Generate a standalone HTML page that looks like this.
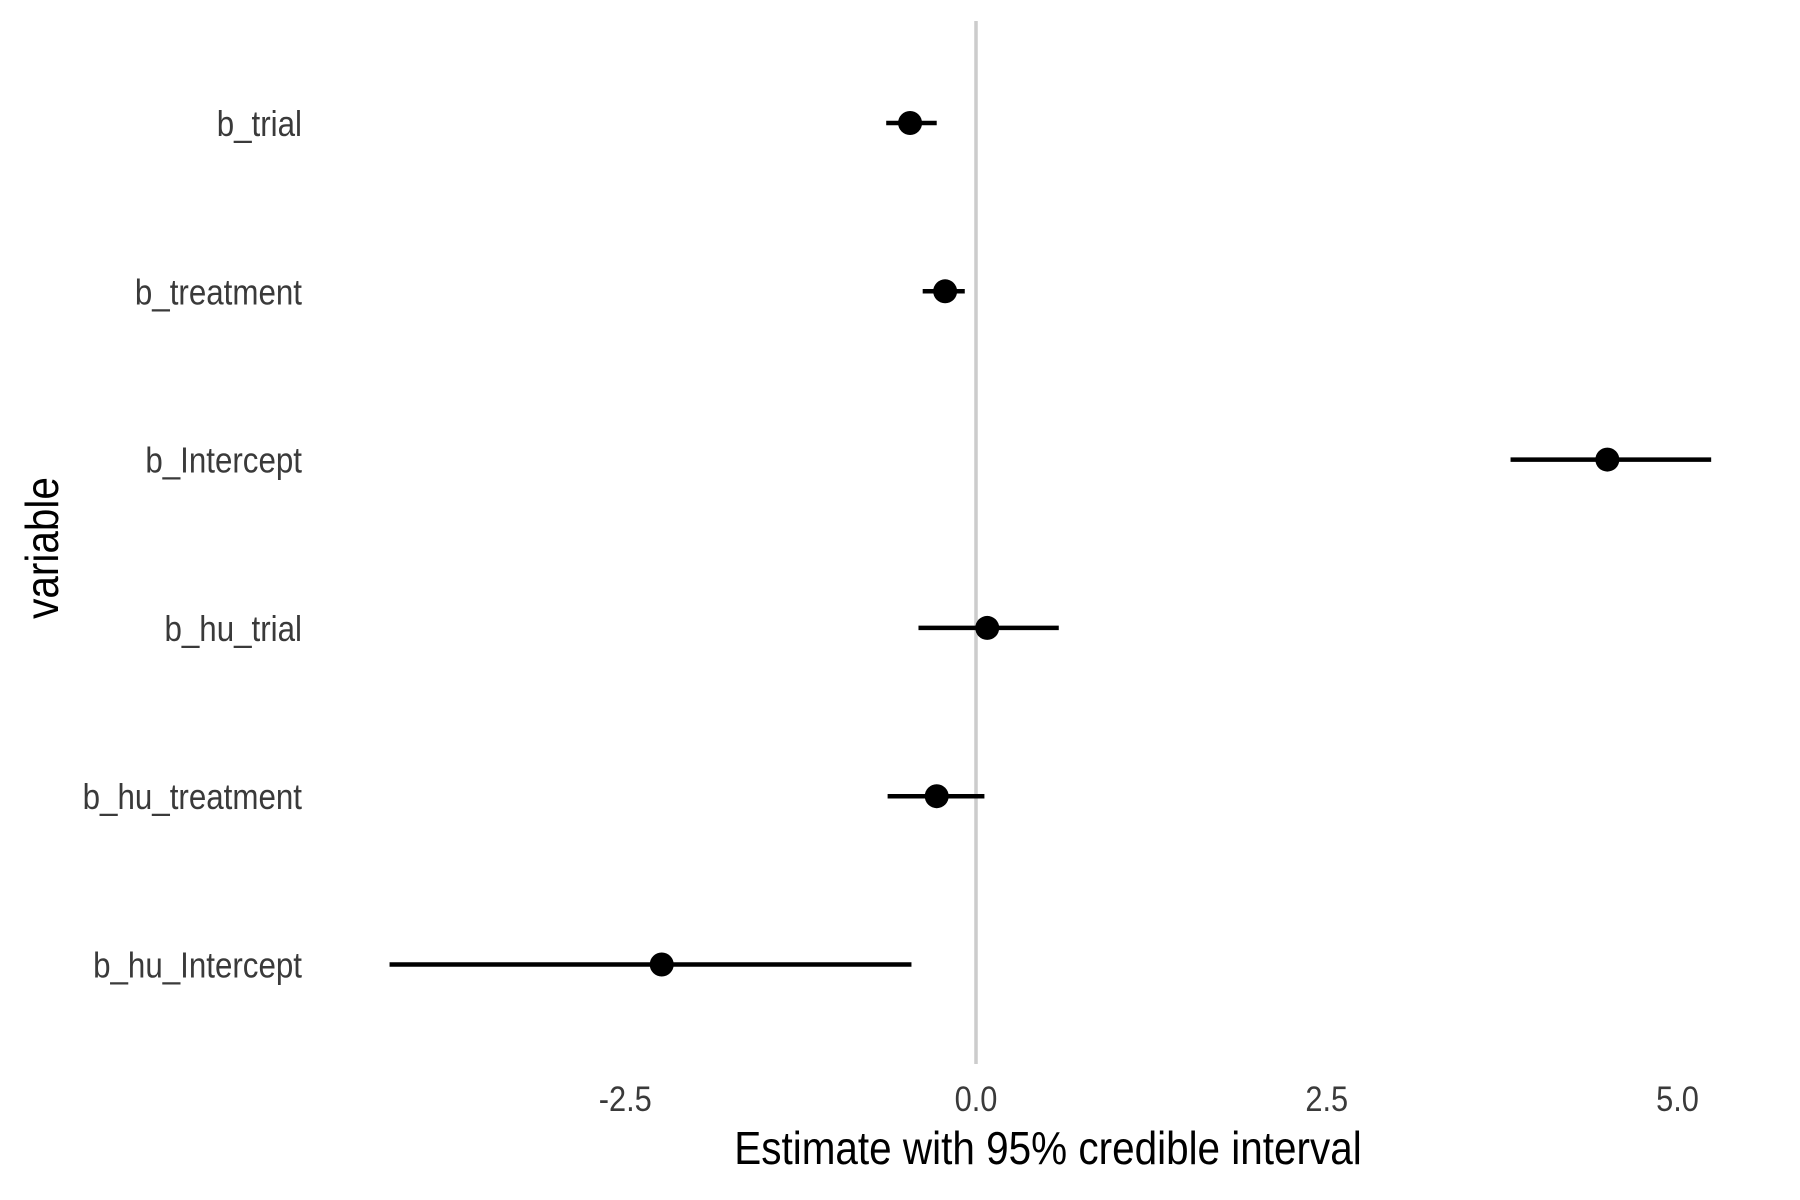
<!DOCTYPE html>
<html><head><meta charset="utf-8"><style>
html,body{margin:0;padding:0;background:#fff;}
svg{display:block;font-family:"Liberation Sans",sans-serif;}
</style></head><body>
<svg id="chart" width="1800" height="1200" viewBox="0 0 1800 1200" xmlns="http://www.w3.org/2000/svg">
<rect width="1800" height="1200" fill="#fff"/>
<g id="plot"></g>
</svg>
<script>
const variables = ["b_trial","b_treatment","b_Intercept","b_hu_trial","b_hu_treatment","b_hu_Intercept"];
const estimates = [-0.47,-0.22,4.50,0.08,-0.28,-2.24];
const lowers = [-0.64,-0.38,3.81,-0.41,-0.63,-4.18];
const uppers = [-0.28,-0.08,5.24,0.59,0.06,-0.46];
const xTicks = [-2.5,0,2.5,5];
const xTickLabels = ["-2.5","0.0","2.5","5.0"];

const NS="http://www.w3.org/2000/svg";
const g=document.getElementById('plot');
function x(v){return 976+v*140.3;}
function y(i){return 123+i*168.3;}
function mk(t,a){const e=document.createElementNS(NS,t);for(const k in a)e.setAttribute(k,a[k]);g.appendChild(e);return e;}
function txt(s,tx,ty,size,sx,anchor,fill,rot){
  const e=mk('text',{x:0,y:0,'font-size':size,'text-anchor':anchor,fill:fill,
    transform:'translate('+tx+','+ty+')'+(rot?' rotate('+rot+')':'')+' scale('+sx+',1)'});
  e.textContent=s;return e;}

const zl=mk('line',{x1:x(0),x2:x(0),y1:21,y2:1064,stroke:'#cccccc','stroke-width':3.5});



variables.forEach((v,i)=>{
  const l=txt(v,302,y(i)+13,36,0.87,'end','#3a3a3a');
  
  
  const ln=mk('line',{x1:x(lowers[i]),x2:x(uppers[i]),y1:y(i),y2:y(i),stroke:'#000','stroke-width':4.5});
  
  
  const c=mk('circle',{cx:x(estimates[i]),cy:y(i),r:12,fill:'#000'});
  
  
});

xTicks.forEach((t,i)=>{
  const l=txt(xTickLabels[i],x(t),1111,35,0.88,'middle','#3a3a3a');
  
  
});

const xt=txt('Estimate with 95% credible interval',1048,1164,46,0.88,'middle','#000');


const yt=txt('variable',58,548,46,0.88,'middle','#000',-90);


</script>
</body></html>
